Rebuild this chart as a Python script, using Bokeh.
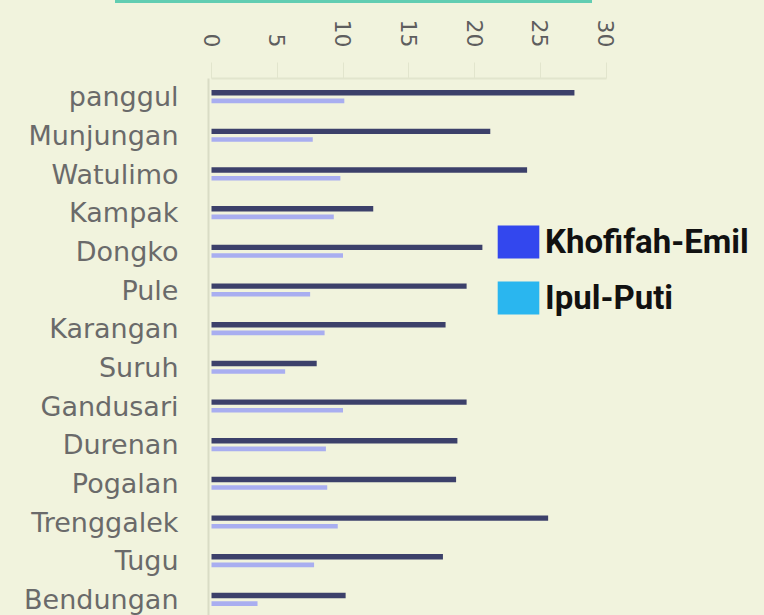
import math
from bokeh.plotting import figure
from bokeh.models import Range1d, FixedTicker, Legend, LegendItem, ColumnDataSource, GlobalInlineStyleSheet
from bokeh.transform import dodge
from bokeh.embed import file_html
from bokeh.resources import INLINE

# ---- data ----
kecamatan = ["panggul", "Munjungan", "Watulimo", "Kampak", "Dongko", "Pule", "Karangan",
             "Suruh", "Gandusari", "Durenan", "Pogalan", "Trenggalek", "Tugu", "Bendungan"]
khofifah_emil = [27.6, 21.2, 24.0, 12.3, 20.6, 19.4, 17.8, 8.0, 19.4, 18.7, 18.6, 25.6, 17.6, 10.2]
ipul_puti = [10.1, 7.7, 9.8, 9.3, 10.0, 7.5, 8.6, 5.6, 10.0, 8.7, 8.8, 9.6, 7.8, 3.5]
x_ticks = [0, 5, 10, 15, 20, 25, 30]
series_names = ["Khofifah-Emil", "Ipul-Puti"]

# ---- style ----
BG = "#f1f3dd"
DARK = "#3c406a"
LIGHT = "#a9aef0"
LEG1 = "#3347ee"
LEG2 = "#2ab6ef"
W, H = 764, 615
LEFT, TOP = 208, 78
px_per_unit = 13.15
row_px = 38.67

x0 = -3 / px_per_unit
x1 = x0 + (W - LEFT) / px_per_unit
y_top = -(96.3 - TOP) / row_px
y_bot = (len(kecamatan) - 1) + (H - 599) / row_px

src = ColumnDataSource(dict(y=list(range(len(kecamatan))), ke=khofifah_emil, ip=ipul_puti))

p = figure(width=W, height=H, output_backend="svg", toolbar_location=None,
           x_range=Range1d(x0, x1), y_range=Range1d(y_bot, y_top),
           x_axis_location="above",
           min_border_left=LEFT, min_border_top=TOP, min_border_right=0, min_border_bottom=0)
p.background_fill_color = BG
p.border_fill_color = BG
p.outline_line_color = None
p.grid.visible = False

p.hbar(y=dodge("y", -0.105, range=p.y_range), right="ke", left=0, height=0.14,
       source=src, fill_color=DARK, line_color=None)
p.hbar(y=dodge("y", 0.105, range=p.y_range), right="ip", left=0, height=0.12,
       source=src, fill_color=LIGHT, line_color=None)

# legend swatches (colours differ from the bars in the original); zero-length bars
r1 = p.hbar(y="y", right=0, left=0, height=0.1, source=src, fill_color=LEG1, line_color=None)
r2 = p.hbar(y="y", right=0, left=0, height=0.1, source=src, fill_color=LEG2, line_color=None)
legend = Legend(items=[LegendItem(label=series_names[0], renderers=[r1]),
                       LegendItem(label=series_names[1], renderers=[r2])],
                location=(284, 297), orientation="vertical",
                glyph_width=52, glyph_height=41, label_height=41, spacing=15,
                label_standoff=1, padding=0, margin=0,
                border_line_color=None, background_fill_alpha=0,
                label_text_font="Roboto", label_text_font_style="bold",
                label_text_font_size="33px", label_text_color="#111111")
p.add_layout(legend)

# x axis (top)
xa = p.xaxis[0]
xa.ticker = FixedTicker(ticks=x_ticks)
xa.bounds = (0, 30)
xa.major_label_orientation = -math.pi / 2
xa.major_label_text_font = "DejaVu Sans"
xa.major_label_text_font_size = "22px"
xa.major_label_text_color = "#5e5e5e"
xa.major_label_standoff = 15
xa.major_tick_out = 16
xa.major_tick_in = 0
xa.minor_tick_line_color = None
xa.axis_line_color = "#e2e5cd"
xa.axis_line_width = 2
xa.major_tick_line_color = "#e2e5cd"

# y axis (left)
ya = p.yaxis[0]
ya.ticker = FixedTicker(ticks=list(range(len(kecamatan))))
ya.major_label_overrides = {i: n for i, n in enumerate(kecamatan)}
ya.major_label_text_font = "DejaVu Sans"
ya.major_label_text_font_size = "27px"
ya.major_label_text_color = "#6a6a6a"
ya.major_label_standoff = 24
ya.major_tick_line_color = None
ya.minor_tick_line_color = None
ya.axis_line_color = "#d9dcc5"
ya.axis_line_width = 2

p.stylesheets = [GlobalInlineStyleSheet(css=(
    "html,body{margin:0;padding:0;overflow:hidden;background:#f1f3dd;}"
    "body::before{content:'';position:fixed;top:0;left:115px;width:477px;height:3px;background:#62cdb2;z-index:10;}"
))]

open("out.html", "w").write(file_html(p, INLINE))
